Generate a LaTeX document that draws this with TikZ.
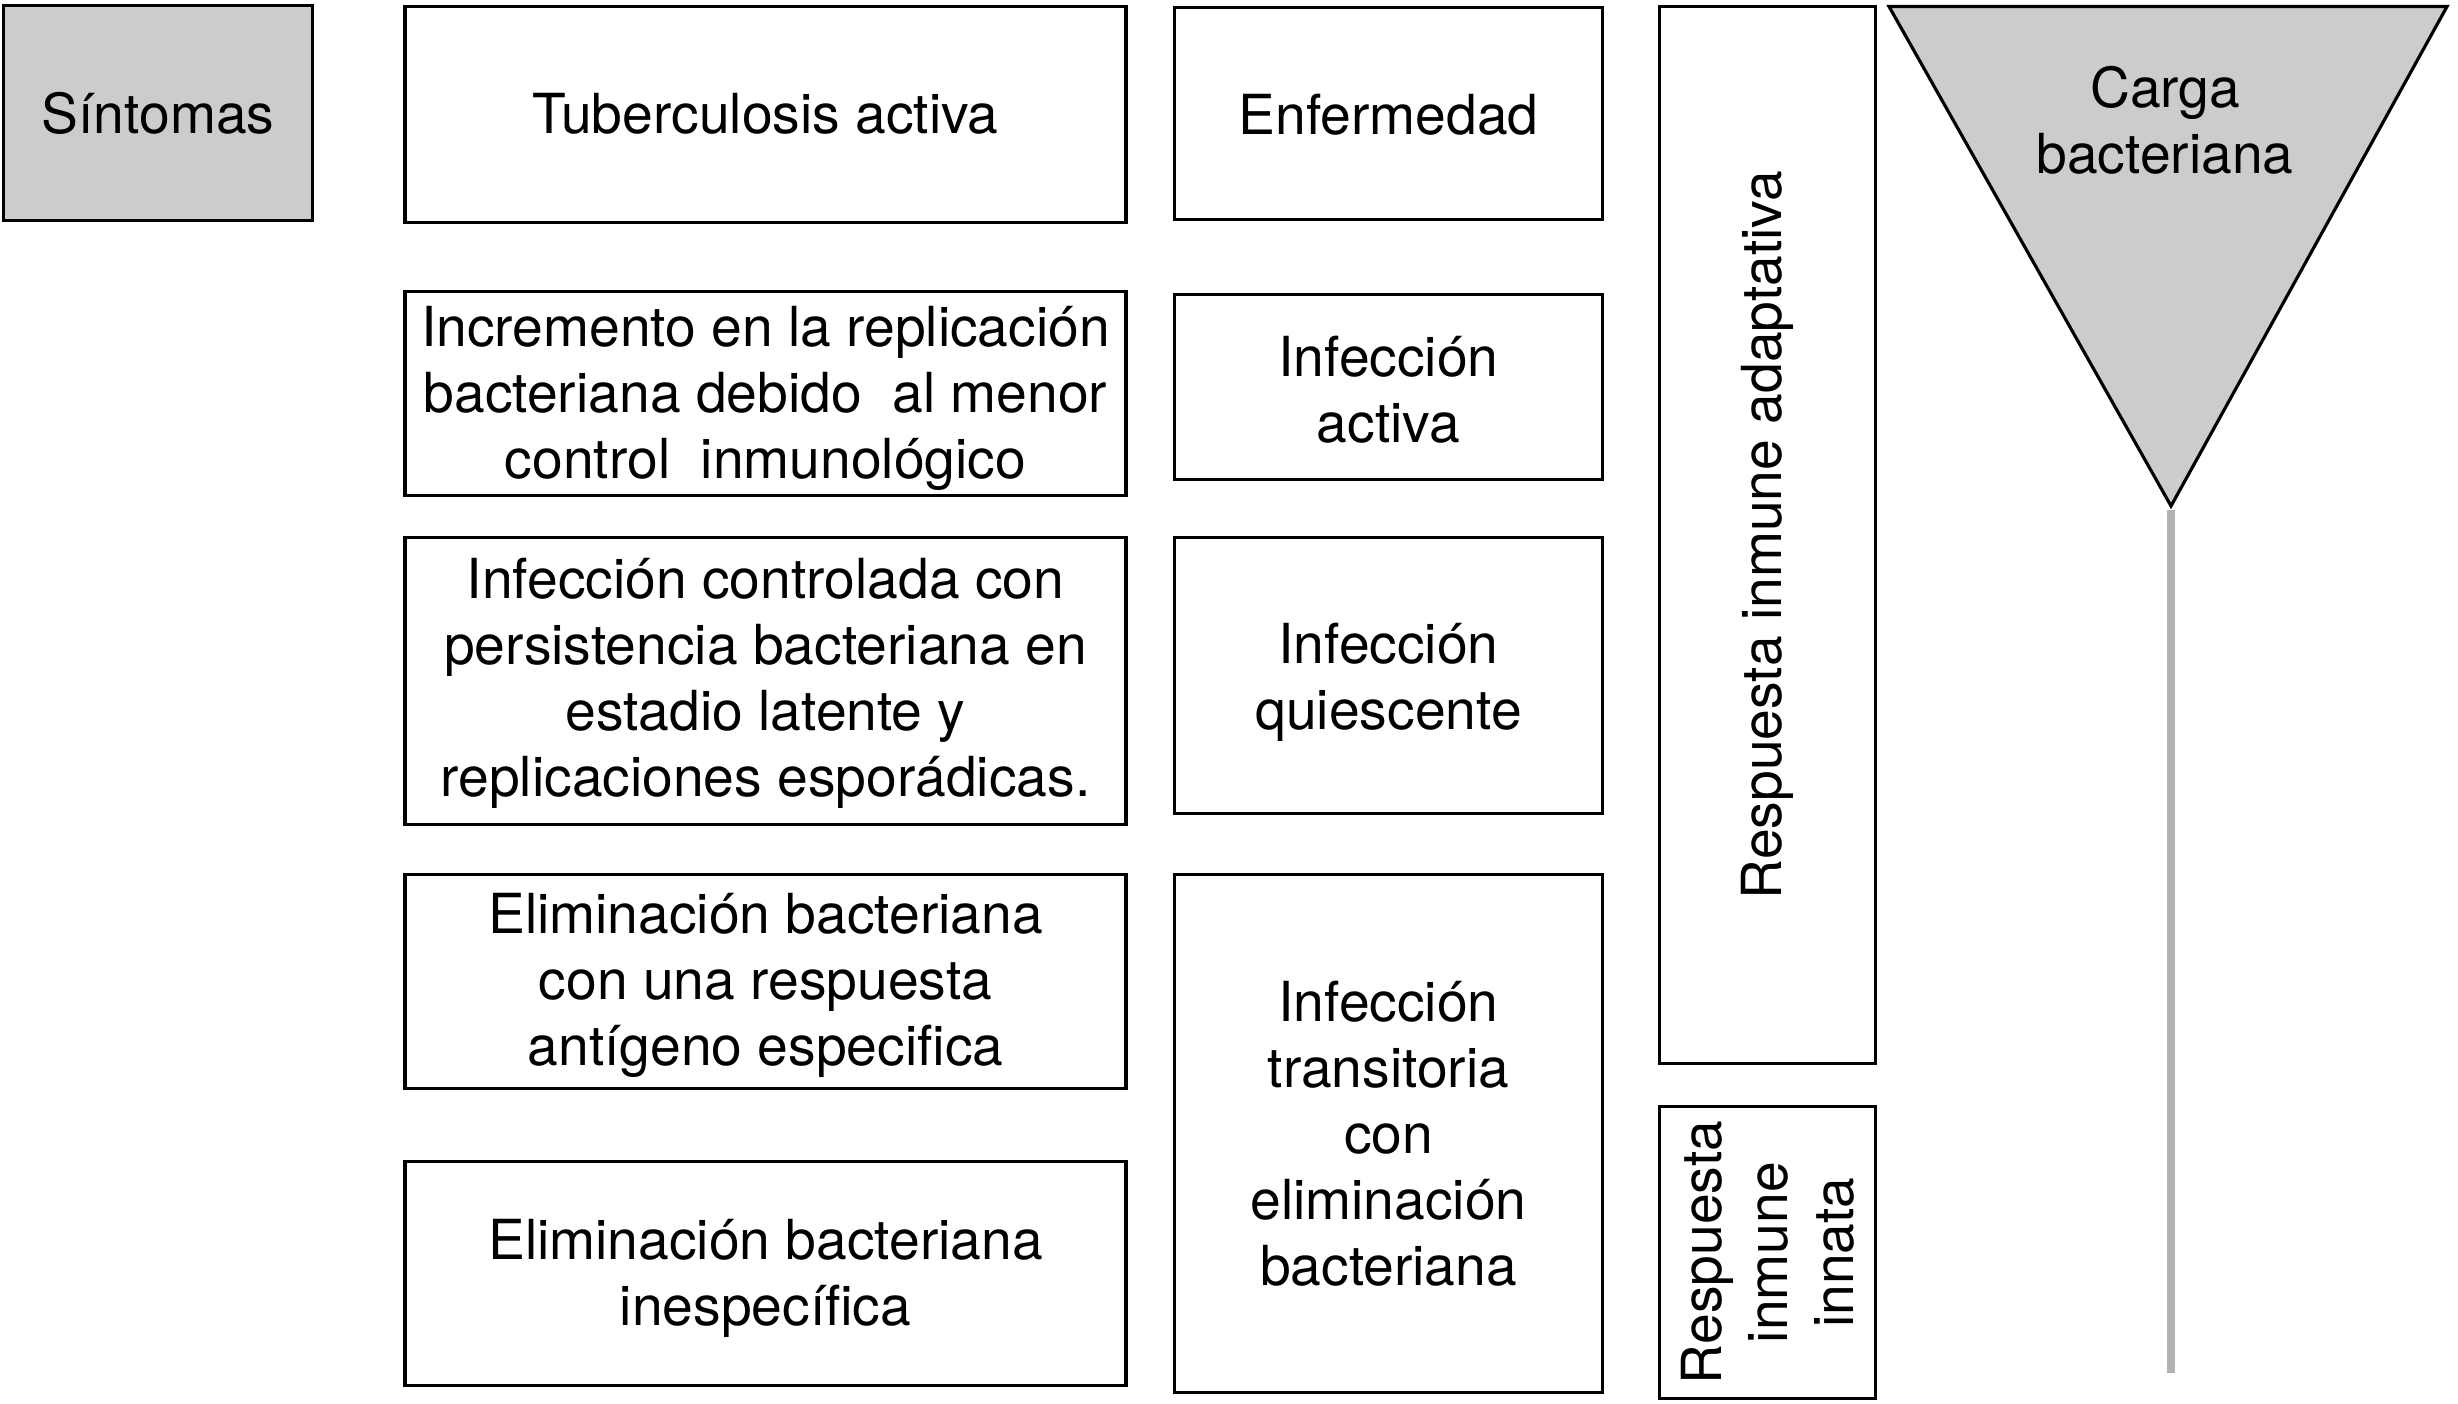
\documentclass[tikz,border=0pt]{standalone}
\usepackage{fontspec}
\setmainfont{TeX Gyre Heros}
\definecolor{fillgray}{RGB}{204,204,204}
\definecolor{linegray}{RGB}{178,178,178}
\newcommand{\diagfont}{\fontsize{15.7pt}{18.8pt}\selectfont}
\begin{document}
\begin{tikzpicture}[x=0.01cm,y=-0.01cm,
  box/.style={draw, line width=0.95pt, inner sep=0pt, align=center, font=\diagfont},
  lbox/.style={box, line width=1.08pt, minimum width=7.20cm},
  mbox/.style={box, minimum width=4.28cm},
  rbox/.style={box, rotate=90, minimum height=2.16cm},
  label/.style={inner sep=0pt, align=center, font=\diagfont}]
\useasboundingbox (0,0) rectangle (2458,1403);
% symptoms
\node[box, line width=1.05pt, fill=fillgray, minimum width=3.09cm, minimum height=2.15cm] (sint) at (158,113) {Síntomas};
% left column
\node[lbox, minimum height=2.16cm] (tb) at (765.5,114.5) {};
\node[label] (tbt) at ([yshift=0.01cm]tb.center) {Tuberculosis activa};
\node[lbox, minimum height=2.04cm] (inc) at (765.5,393.5) {};
\node[label] (inct) at ([yshift=-0.05cm]inc.center) {Incremento en la replicación\\bacteriana debido\ \ al menor\\control\ \ inmunológico};
\node[lbox, minimum height=2.87cm] (ctrl) at (765.5,681) {};
\node[label] (ctrlt) at ([yshift=-0.02cm]ctrl.center) {Infección controlada con\\persistencia bacteriana en\\estadio latente y\\replicaciones esporádicas.};
\node[lbox, minimum height=2.14cm] (ant) at (765.5,981.5) {};
\node[label] (antt) at ([yshift=-0.04cm]ant.center) {Eliminación bacteriana\\con una respuesta\\antígeno especifica};
\node[lbox, minimum height=2.24cm] (ines) at (765.5,1273.5) {};
\node[label] (inest) at ([yshift=-0.05cm]ines.center) {Eliminación bacteriana\\inespecífica};
% middle column
\node[mbox, minimum height=2.12cm] (enf) at (1388.5,113.5) {};
\node[label] (enft) at ([yshift=-0.01cm]enf.center) {Enfermedad};
\node[mbox, minimum height=1.85cm] (act) at (1388.5,387) {};
\node[label] (actt) at ([yshift=-0.03cm]act.center) {Infección\\activa};
\node[mbox, minimum height=2.76cm] (qui) at (1388.5,675.5) {};
\node[label] (quit) at ([yshift=-0.07cm]qui.center) {Infección\\quiescente};
\node[mbox, minimum height=5.18cm] (tra) at (1388.5,1133.5) {Infección\\transitoria\\con\\eliminación\\bacteriana};
% right column (vertical)
\node[rbox, minimum width=10.57cm] (ada) at (1767.5,535) {Respuesta inmune adaptativa};
\node[rbox, minimum width=2.92cm] (inn) at (1767.5,1252.5) {Respuesta\\inmune\\innata};
% bacterial load triangle
\coordinate (tl) at (1889,6.5);
\coordinate (tr) at (2447,6.5);
\coordinate (apex) at (2171,506);
\coordinate (lineend) at (2171,1373);
\draw[fill=fillgray, line width=0.9pt, line join=miter] (tl) -- (tr) -- (apex) -- cycle;
\node[label] (carga) at (2165,120) {Carga\\bacteriana};
\draw[linegray, line width=2.3pt] ([yshift=-0.04cm]apex) -- (lineend);
\end{tikzpicture}
\end{document}
